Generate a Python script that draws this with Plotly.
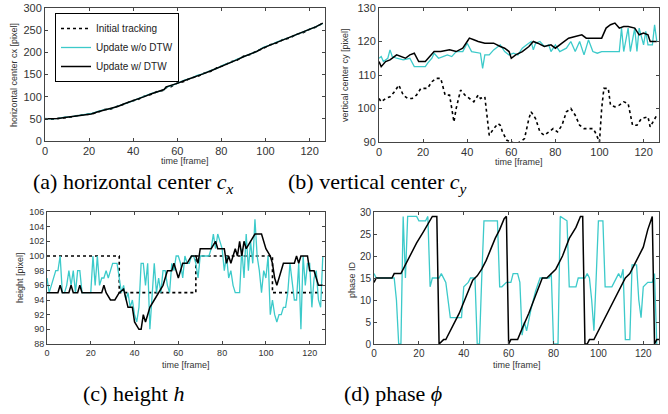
import plotly.graph_objects as go

# ---------------- data ----------------
# (a) horizontal center cx
cx_frames = [0, 3, 6, 9, 12, 15, 18, 21, 24, 27, 30, 33, 36, 39, 42, 45, 48, 51, 54, 55, 57, 60,
             63, 66, 69, 72, 75, 78, 81, 84, 87, 90, 93, 96, 99, 102, 105, 108, 111, 114, 117, 120, 123, 126]
cx_init = [50, 49, 51, 53, 54, 58, 60, 61, 65, 71, 72, 79, 83, 90, 93, 101, 105, 112, 114, 121, 122, 131,
           134, 142, 145, 153, 157, 165, 170, 178, 182, 191, 195, 203, 209, 217, 221, 229, 232, 241, 244, 252, 257, 266]
cx_wo = [51, 50, 51, 54, 55, 57, 60, 62, 67, 71, 73, 79, 84, 89, 95, 100, 107, 111, 116, 121, 124, 130,
         137, 141, 148, 152, 159, 164, 172, 177, 184, 190, 197, 202, 211, 216, 223, 228, 234, 240, 246, 251, 258, 265]
cx_w = [50, 50, 51, 53, 55, 57, 60, 61, 66, 70, 73, 78, 84, 89, 94, 100, 106, 111, 116, 122, 125, 130,
        136, 141, 147, 152, 158, 164, 171, 177, 183, 190, 196, 202, 210, 216, 222, 228, 233, 240, 245, 251, 258, 266]

# (b) vertical center cy
cy_init_f = [0, 1, 3, 5, 7, 9, 11, 13, 15, 17, 19, 22, 24, 26, 28, 30, 32, 33, 34, 35, 37, 39, 41, 43, 45, 46,
             48, 49, 50, 52, 54, 55, 56, 58, 60, 62, 64, 66, 68, 69, 71, 73, 75, 77, 79, 81, 83, 85, 87, 89,
             91, 93, 95, 97, 98, 100, 101, 102, 104, 105, 107, 109, 111, 113, 115, 117, 119, 122, 123, 125, 126]
cy_init = [103, 102, 103, 103.5, 105, 107, 104, 103, 103, 104, 106, 106, 108, 109, 109, 104, 104, 100, 96, 100,
           105.5, 104, 103, 102, 104, 103, 103.5, 97, 92, 94, 95.5, 95, 93, 90.5, 90, 89.5, 90, 91, 97, 99,
           97, 93, 92, 93, 94, 93, 95, 99, 100, 98, 95, 94, 94, 94, 93, 90, 100, 106, 106, 101, 100.5, 101,
           102, 101.5, 95, 95, 97, 97.5, 94.5, 97, 98]
cy_wo_f = [0, 1, 2, 4, 5, 6, 8, 11, 14, 16, 18, 21, 22, 24, 25, 27, 29, 31, 33, 35, 38, 40, 42, 45, 46, 47, 48,
           50, 52, 55, 57, 59, 61, 63, 65, 67, 69, 70, 71, 73, 75, 77, 78, 80, 82, 85, 87, 89, 91, 93, 95, 97,
           99, 101, 103, 105, 107, 109, 110, 111, 113, 114, 116, 117, 118, 120, 121, 122, 124, 125, 126]
cy_wo = [115, 115.5, 114, 115, 117.5, 115.5, 115, 114.5, 115, 112.5, 112.5, 112.5, 113.5, 115, 116.5, 115, 115.5,
         116, 115.5, 117, 117, 119.5, 117, 116.5, 116.5, 112, 116, 116, 117.5, 119, 117, 116, 116.5, 116, 118,
         119, 120, 117.5, 119.5, 120, 118.5, 119, 117, 119, 117, 118, 120, 117, 120, 116, 120.5, 117, 116.5,
         117, 117, 117, 117, 117, 124, 117, 124, 117, 124, 117, 124, 119, 123, 119, 119, 125, 120]
cy_w_f = [0, 1, 3, 5, 8, 10, 12, 14, 16, 18, 21, 23, 25, 28, 32, 35, 38, 40, 41, 43, 45, 48, 52, 55, 57, 59,
          60, 62, 65, 68, 70, 72, 75, 78, 80, 83, 86, 89, 92, 94, 97, 101, 103, 105, 107, 109, 111, 113, 116,
          118, 120, 122, 123, 124, 126]
cy_w = [114, 112.5, 114, 114.5, 116, 115.5, 115, 116, 116.5, 114, 114, 115.5, 117, 117, 117.5, 117, 118, 120,
        121, 120.5, 120, 119.5, 119.5, 118.5, 118, 117, 115, 116, 117, 118.5, 120, 119.5, 118.5, 119, 118,
        119.5, 121, 121.5, 122, 121, 121, 121, 124, 125, 125.5, 124, 124.5, 124.5, 124, 122, 122.5, 122, 120,
        120, 120]

# (c) height h
h_init_f = [0, 33, 33, 68, 68, 103, 103, 126]
h_init = [100, 100, 95, 95, 100, 100, 95, 95]
h_wo_f = list(range(0, 127))
h_wo = [97, 95, 96, 97, 98, 98, 100, 95, 95, 96, 98, 96, 98, 95, 98, 98, 95, 95, 95, 95, 95, 100, 96, 100, 96,
        97, 97, 98, 97, 98, 99, 99, 99, 97, 95, 96, 94, 95, 93, 94, 92, 91, 93, 99, 99, 96, 99, 90, 95, 99,
        95, 97, 95, 98, 98, 96, 95, 99, 98, 100, 100, 99, 97, 100, 99, 99, 100, 100, 99, 97, 100, 100, 100,
        100, 100, 101, 103, 101, 103, 102, 101, 98, 100, 97, 98, 96, 95, 95, 95, 101, 97, 103, 98, 102, 99,
        105, 100, 98, 95, 98, 97, 100, 92, 94, 92, 91, 92, 92, 93, 93, 95, 99, 96, 94, 94, 99, 90, 100, 96,
        99, 99, 93, 97, 98, 94, 93, 100]
h_w_f = [0, 5, 6, 7, 10, 11, 12, 14, 15, 16, 25, 26, 27, 29, 31, 33, 35, 36, 37, 39, 40, 42, 43, 44, 45, 46,
         47, 49, 51, 53, 55, 57, 58, 60, 62, 64, 66, 68, 69, 70, 75, 77, 78, 81, 82, 83, 84, 86, 87, 88, 89,
         90, 91, 93, 95, 98, 100, 102, 103, 104, 105, 106, 108, 111, 113, 114, 115, 116, 119, 120, 122, 124, 126]
h_w = [95, 95, 96, 95, 95, 96, 95, 95, 96, 95, 95, 96, 95, 94, 94, 95, 95.5, 94, 93, 93, 91, 90, 90, 92, 91,
       92, 93, 94, 95, 96, 98, 98, 99, 97, 99, 99, 100, 100, 99, 101, 101, 102, 101, 101, 99, 100, 99, 101,
       100, 102, 100, 102, 101, 102, 103, 103, 101, 100, 99, 97, 96, 97, 99, 99, 99, 100, 99, 100, 100, 98,
       98, 96, 96]

# (d) phase phi
p_wo_f = [0, 1, 9, 10, 11, 12, 13, 14, 15, 19, 20, 23, 24, 25, 26, 29, 30, 31, 32, 34, 36, 39, 40, 42, 43, 45,
          46, 47, 48, 49, 55, 56, 57, 59, 61, 62, 64, 65, 66, 67, 68, 70, 72, 74, 78, 79, 80, 82, 83, 86, 87,
          90, 91, 94, 95, 96, 97, 98, 99, 100, 102, 103, 106, 107, 109, 110, 111, 112, 114, 115, 117, 118,
          119, 120, 122, 124, 125, 126]
p_wo = [16, 15, 15, 10, 0, 0, 29, 15, 29, 29, 28, 28, 29, 13, 15, 15, 16, 15, 14, 6, 6, 6, 13, 14, 15, 15, 0,
        0, 15, 28, 28, 13, 13, 14, 14, 16, 16, 14, 2, 5, 3, 8, 12, 15, 15, 16, 0, 0, 29, 28, 13, 13, 15, 15,
        16, 15, 10, 3, 15, 28, 28, 13, 13, 14, 16, 15, 17, 1, 1, 18, 18, 10, 6, 13, 14, 14, 16, 0]
p_w_f = [0, 1, 8, 9, 12, 13, 16, 19, 22, 26, 27, 28, 29, 30, 31, 32, 33, 34, 36, 38, 40, 42, 44, 45, 46, 48,
         50, 52, 54, 56, 58, 59, 60, 61, 64, 66, 69, 72, 74, 75, 77, 79, 81, 84, 87, 90, 92, 93, 94, 95, 96,
         98, 100, 103, 107, 110, 112, 114, 116, 118, 120, 121, 122, 124, 125, 126, 127]
p_w = [14, 15, 15, 16, 16, 17, 20, 23, 25.5, 29, 29, 29, 0, 0.5, 1, 1, 2, 3, 5, 7, 9.5, 12, 14.5, 15, 15.5,
       17, 19, 21.5, 24, 26, 28.5, 29, 0, 1, 1, 3.5, 7, 11, 14, 15, 15, 16, 17, 20, 24, 26.5, 29, 29, 0, 0,
       1, 1, 3, 6, 10, 13, 15, 16, 18, 20, 22, 24, 26, 29, 0, 1, 1]

names = ["Initial tracking", "Update w/o DTW", "Update w/ DTW"]
captions = ["(a) horizontal center <i>c<sub>x</sub></i>", "(b) vertical center <i>c<sub>y</sub></i>",
            "(c) height <i>h</i>", "(d) phase <i>\u03d5</i>"]
ylabels = ["horizontal center cx [pixel]", "vertical center cy [pixel]", "height [pixel]", "phase ID"]
xlabel = "time [frame]"

# ---------------- style / geometry ----------------
CYAN = "#3ccaca"
BLACK = "#000000"
DASH = "3px,3px"

W, H = 668, 414
def px(x): return x / W
def py(y): return 1 - y / H
def dx(a, b): return [px(a), px(b)]
def dy(top, bottom): return [py(bottom), py(top)]

fig = go.Figure()

panels = [
    (cx_frames, cx_init, cx_frames, cx_wo, cx_frames, cx_w),
    (cy_init_f, cy_init, cy_wo_f, cy_wo, cy_w_f, cy_w),
    (h_init_f, h_init, h_wo_f, h_wo, h_w_f, h_w),
    (None, None, p_wo_f, p_wo, p_w_f, p_w),
]

for i, (fi, vi, fo, vo, fw, vw) in enumerate(panels):
    ax = "" if i == 0 else str(i + 1)
    if fi is not None:
        fig.add_trace(go.Scatter(x=fi, y=vi, mode="lines", name=names[0], showlegend=(i == 0),
                                 line=dict(color=BLACK, width=1.6, dash=DASH),
                                 xaxis="x" + ax, yaxis="y" + ax))
    fig.add_trace(go.Scatter(x=fo, y=vo, mode="lines", name=names[1], showlegend=(i == 0),
                             line=dict(color=CYAN, width=1.3),
                             xaxis="x" + ax, yaxis="y" + ax))
    fig.add_trace(go.Scatter(x=fw, y=vw, mode="lines", name=names[2], showlegend=(i == 0),
                             line=dict(color=BLACK, width=1.5),
                             xaxis="x" + ax, yaxis="y" + ax))

# (x domain px, y domain px, y range, dtick, tick font, xtitle y, ytitle x, ytitle y)
geo = [
    (dx(45, 325), dy(8, 141), [0, 300], 50, 11, 161, 14, 75),
    (dx(379, 659), dy(8, 142), [90, 130], 10, 11, 162, 345, 75),
    (dx(47, 325), dy(212, 344), [88, 106], 2, 9, 365, 20, 278),
    (dx(374, 659), dy(212, 344), [0, 30], 5, 10, 365, 352, 280),
]

axis_common = dict(showline=True, linecolor="#444", linewidth=1, mirror="ticks",
                   ticks="inside", ticklen=3, tickcolor="#444", showgrid=False, zeroline=False,
                   automargin=False)
title_font = dict(size=9, color="#333", family="Liberation Sans")

layout = {}
annotations = []
for i, (xd, yd, yr, dt, fs, xty, ytx, yty) in enumerate(geo):
    suf = "" if i == 0 else str(i + 1)
    layout["xaxis" + suf] = dict(domain=xd, range=[0, 127], dtick=20, anchor="y" + suf,
                                 tickfont=dict(size=fs, color="#333", family="Liberation Sans"),
                                 **axis_common)
    layout["yaxis" + suf] = dict(domain=yd, range=yr, dtick=dt, anchor="x" + suf,
                                 tickfont=dict(size=fs, color="#333", family="Liberation Sans"),
                                 **axis_common)
    annotations.append(dict(text=xlabel, x=(xd[0] + xd[1]) / 2, y=py(xty), xref="paper", yref="paper",
                            showarrow=False, xanchor="center", yanchor="middle", font=title_font))
    annotations.append(dict(text=ylabels[i], x=px(ytx), y=py(yty), xref="paper", yref="paper",
                            showarrow=False, xanchor="center", yanchor="middle", textangle=-90,
                            font=title_font))

cap_pos = [(133, 183), (377, 183), (133, 393), (393, 393)]
for (cx0, cy0), txt in zip(cap_pos, captions):
    annotations.append(dict(text=txt, x=px(cx0), y=py(cy0), xref="paper", yref="paper",
                            showarrow=False, xanchor="center", yanchor="middle",
                            font=dict(family="Liberation Serif", size=22, color="black")))

fig.update_layout(
    width=W, height=H, margin=dict(l=0, r=0, t=0, b=0),
    paper_bgcolor="white", plot_bgcolor="white",
    showlegend=True,
    legend=dict(x=px(55), y=py(13), xanchor="left", yanchor="top",
                bordercolor="black", borderwidth=1, bgcolor="white",
                font=dict(size=10, family="Liberation Sans", color="#222"),
                tracegroupgap=0, itemwidth=30),
    annotations=annotations,
    **layout,
)

fig.write_html("out.html", config={"displayModeBar": False},
               post_script="document.body.style.margin='0';document.body.style.overflow='hidden';")
